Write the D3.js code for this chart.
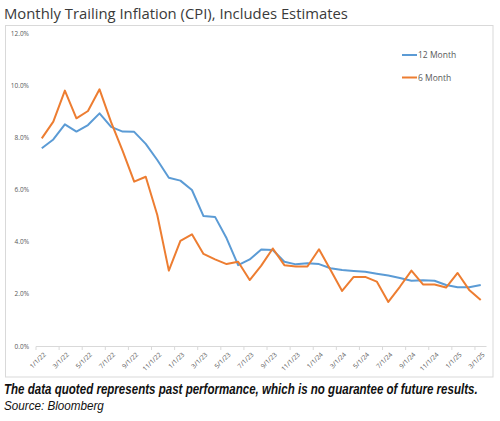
<!DOCTYPE html>
<html>
<head>
<meta charset="utf-8">
<script src="https://cdn.jsdelivr.net/npm/d3@7/dist/d3.min.js"></script>
<style>
  html, body { margin: 0; padding: 0; background: #fff; }
  svg { display: block; }
</style>
</head>
<body>
<svg id="chart" width="500" height="421"></svg>
<script>
// ---- Data ----
const months = [
  "1/1/22","2/1/22","3/1/22","4/1/22","5/1/22","6/1/22","7/1/22","8/1/22","9/1/22","10/1/22","11/1/22","12/1/22",
  "1/1/23","2/1/23","3/1/23","4/1/23","5/1/23","6/1/23","7/1/23","8/1/23","9/1/23","10/1/23","11/1/23","12/1/23",
  "1/1/24","2/1/24","3/1/24","4/1/24","5/1/24","6/1/24","7/1/24","8/1/24","9/1/24","10/1/24","11/1/24","12/1/24",
  "1/1/25","2/1/25","3/1/25"
];
const twelveMonth = [
  7.58, 7.92, 8.50, 8.22, 8.47, 8.92, 8.40, 8.22, 8.21, 7.75, 7.13, 6.45,
  6.34, 5.98, 4.98, 4.95, 4.13, 3.10, 3.32, 3.70, 3.68, 3.23, 3.13, 3.17,
  3.14, 2.98, 2.91, 2.88, 2.85, 2.77, 2.70, 2.61, 2.50, 2.52, 2.50, 2.34,
  2.25, 2.25, 2.34
];
const sixMonth = [
  7.96, 8.60, 9.79, 8.73, 9.01, 9.84, 8.58, 7.48, 6.30, 6.49, 5.02, 2.89,
  4.03, 4.28, 3.53, 3.32, 3.14, 3.23, 2.53, 3.08, 3.74, 3.10, 3.05, 3.05,
  3.71, 2.91, 2.11, 2.65, 2.65, 2.47, 1.69, 2.27, 2.89, 2.36, 2.36, 2.24,
  2.80, 2.15, 1.76
];
const yTicks = [0, 2, 4, 6, 8, 10, 12];
const seriesNames = ["12 Month", "6 Month"];
const seriesColors = ["#5B9BD5", "#ED7D31"];

// ---- Layout ----
const svg = d3.select("#chart");
const plot = { left: 36, right: 486.5, top: 33, bottom: 346 };

function fitWidth(sel, target, startSize) {
  let fs = startSize;
  sel.attr("font-size", fs);
  const w = sel.node().getComputedTextLength();
  if (w > 0) { fs = fs * target / w; sel.attr("font-size", fs); }
  return sel;
}
// keep font size, compress horizontally to target width
function squeeze(sel, target, x0, y0) {
  const w = sel.node().getComputedTextLength();
  const sx = w > 0 ? target / w : 1;
  sel.attr("x", 0).attr("y", 0)
     .attr("transform", `translate(${x0},${y0}) scale(${sx},1)`);
  return sel;
}

// Chart border
svg.append("rect")
  .attr("x", 5.5).attr("y", 25.5).attr("width", 487.5).attr("height", 351.5)
  .attr("fill", "#fff").attr("stroke", "#d9d9d9").attr("stroke-width", 1);

// Title
const title = svg.append("text")
  .attr("x", 4).attr("y", 19)
  .attr("font-family", "'Open Sans', sans-serif")
  .attr("fill", "#3a3a3a")
  .text("Monthly Trailing Inflation (CPI), Includes Estimates");
fitWidth(title, 344, 16);

// Scales
const x = d3.scalePoint()
  .domain(months)
  .range([plot.left, plot.right])
  .padding(0.5);
const y = d3.scaleLinear().domain([0, 12]).range([plot.bottom, plot.top]);

// Y axis labels
const yAxis = d3.axisLeft(y)
  .tickValues(yTicks)
  .tickSize(0)
  .tickPadding(0)
  .tickFormat(d => d.toFixed(1) + "%");
const yg = svg.append("g").attr("transform", `translate(${29},0)`).call(yAxis);
yg.select(".domain").remove();
yg.selectAll("text")
  .attr("font-family", "'Open Sans', sans-serif")
  .attr("font-size", 6.5)
  .attr("fill", "#595959");

// X axis
const step = x.step();
const xAxis = d3.axisBottom(x)
  .tickValues(months.filter((d, i) => i % 2 === 0))
  .tickSize(0)
  .tickFormat(d => d);
const xg = svg.append("g").attr("transform", `translate(0,${plot.bottom})`).call(xAxis);
xg.select(".domain")
  .attr("stroke", "#d9d9d9")
  .attr("d", `M${plot.left},0.5H${plot.right}`);
const boundaries = d3.range(0, months.length + 1, 2).map(i => plot.left + i * step);
xg.selectAll(".bt").data(boundaries).enter().append("line")
  .attr("class", "bt")
  .attr("x1", d => d).attr("x2", d => d)
  .attr("y1", 0.5).attr("y2", 4)
  .attr("stroke", "#d9d9d9");
xg.selectAll(".tick text")
  .attr("font-family", "'Open Sans', sans-serif")
  .attr("font-size", 6.5)
  .attr("fill", "#595959")
  .attr("text-anchor", "end")
  .attr("dy", null)
  .attr("y", 0)
  .attr("transform", "translate(4,9) rotate(-45)");

// Lines
const line = d3.line()
  .x((d, i) => x(months[i]))
  .y(d => y(d));
[twelveMonth, sixMonth].forEach((s, k) => {
  svg.append("path")
    .datum(s)
    .attr("fill", "none")
    .attr("stroke", seriesColors[k])
    .attr("stroke-width", 2)
    .attr("stroke-linejoin", "round")
    .attr("d", line);
});

// Legend
const legend = svg.append("g");
seriesNames.forEach((n, k) => {
  const ly = 55 + k * 22.5;
  legend.append("line")
    .attr("x1", 402).attr("x2", 417).attr("y1", ly).attr("y2", ly)
    .attr("stroke", seriesColors[k]).attr("stroke-width", 2);
  legend.append("text")
    .attr("x", 418).attr("y", ly + 3)
    .attr("font-family", "'Open Sans', sans-serif")
    .attr("font-size", 8.5)
    .attr("fill", "#595959")
    .text(n);
});

// Footer
const foot1 = svg.append("text")
  .attr("font-family", "'Liberation Sans', Arial, sans-serif")
  .attr("font-size", 14)
  .attr("font-weight", "bold")
  .attr("font-style", "italic")
  .attr("fill", "#111")
  .text("The data quoted represents past performance, which is no guarantee of future results.");
squeeze(foot1, 474, 4, 394);
const foot2 = svg.append("text")
  .attr("font-family", "'Liberation Sans', Arial, sans-serif")
  .attr("font-size", 12.5)
  .attr("font-style", "italic")
  .attr("fill", "#111")
  .text("Source: Bloomberg");
squeeze(foot2, 100, 4, 410);
</script>
</body>
</html>
